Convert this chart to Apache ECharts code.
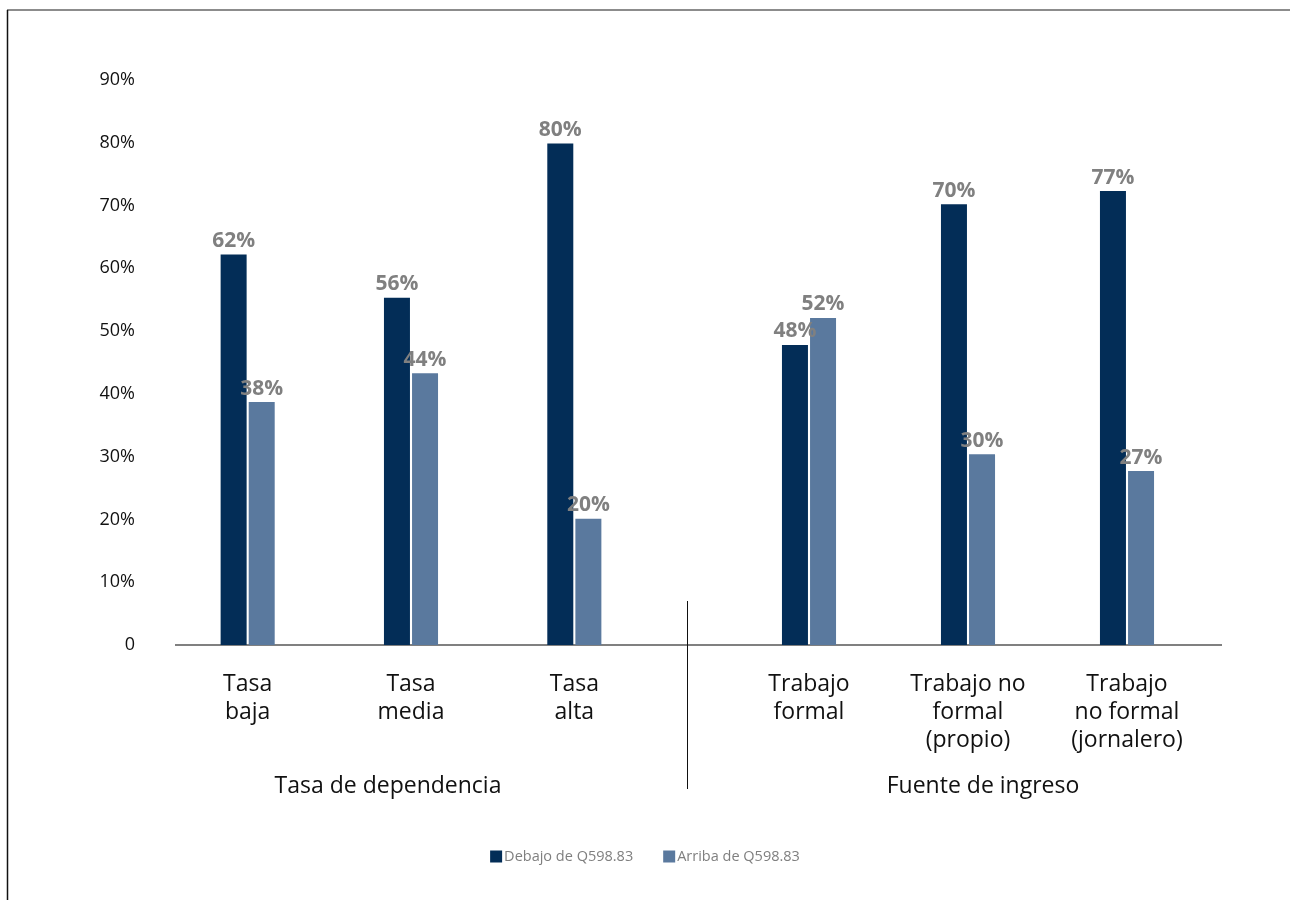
<!DOCTYPE html>
<html>
<head>
<meta charset="utf-8">
<script src="https://cdn.jsdelivr.net/npm/echarts@6/dist/echarts.min.js"></script>
<style>
html,body{margin:0;padding:0;background:#fff;}
#chart{width:1290px;height:900px;}
</style>
</head>
<body>
<div id="chart"></div>
<script>
// Group 1: Tasa de dependencia
const categoriesA = ["Tasa\nbaja", "Tasa\nmedia", "Tasa\nalta"];
// Group 2: Fuente de ingreso
const categoriesB = ["Trabajo\nformal", "Trabajo no\nformal\n(propio)", "Trabajo\nno formal\n(jornalero)"];
const groupNames = ["Tasa de dependencia", "Fuente de ingreso"];
const seriesNames = ["Debajo de Q598.83", "Arriba de Q598.83"];
// Bar heights as drawn (in %)
const debajoA = [62.2, 55.3, 79.9];
const arribaA = [38.7, 43.3, 20.1];
const debajoB = [47.8, 70.2, 72.3];
const arribaB = [52.1, 30.4, 27.7];
// Data labels as printed
const debajoLabelsA = ["62%", "56%", "80%"];
const arribaLabelsA = ["38%", "44%", "20%"];
const debajoLabelsB = ["48%", "70%", "77%"];
const arribaLabelsB = ["52%", "30%", "27%"];
const yTicks = ["0", "10%", "20%", "30%", "40%", "50%", "60%", "70%", "80%", "90%"];

const FONT = "Open Sans";
const DARK = '#032d57', LIGHT = '#5a799e';
const chart = echarts.init(document.getElementById('chart'));
const labelStyle = (arr) => ({
  show: true, position: 'top', distance: 3,
  color: '#808080', fontFamily: FONT, fontWeight: 'bold', fontSize: 21,
  formatter: p => arr[p.dataIndex]
});
const xAxisBase = (data, idx) => ({
  type: 'category', data: data, gridIndex: idx,
  axisLine: { show: false },
  axisTick: { show: false },
  axisLabel: { color: '#111', fontSize: 23, lineHeight: 28, margin: 25, fontFamily: FONT, interval: 0 }
});
const yAxisBase = (idx, showLabel) => ({
  type: 'value', min: 0, max: 90, interval: 10, gridIndex: idx,
  splitLine: { show: false }, axisLine: { show: false }, axisTick: { show: false },
  axisLabel: { show: showLabel, color: '#111', fontSize: 18, margin: 31, fontFamily: FONT,
    formatter: (v) => yTicks[Math.round(v / 10)] }
});
chart.setOption({
  animation: false,
  backgroundColor: '#fff',
  textStyle: { fontFamily: FONT },
  grid: [
    { left: 166, right: 634, top: 80, bottom: 255 },
    { left: 729.5, right: 83.5, top: 80, bottom: 255 }
  ],
  legend: {
    bottom: 31, left: 'center', itemWidth: 12, itemHeight: 12, itemGap: 30,
    icon: 'rect',
    textStyle: { color: '#7f7f7f', fontSize: 14.5, fontFamily: FONT, padding: [0, 0, 0, -3] },
    data: seriesNames
  },
  xAxis: [xAxisBase(categoriesA, 0), xAxisBase(categoriesB, 1)],
  yAxis: [yAxisBase(0, true), yAxisBase(1, false)],
  series: [
    { name: seriesNames[0], type: 'bar', xAxisIndex: 0, yAxisIndex: 0, data: debajoA, barWidth: 26, barGap: '8%',
      itemStyle: { color: DARK }, label: labelStyle(debajoLabelsA) },
    { name: seriesNames[1], type: 'bar', xAxisIndex: 0, yAxisIndex: 0, data: arribaA, barWidth: 26, barGap: '8%',
      itemStyle: { color: LIGHT }, label: labelStyle(arribaLabelsA) },
    { name: seriesNames[0], type: 'bar', xAxisIndex: 1, yAxisIndex: 1, data: debajoB, barWidth: 26, barGap: '8%',
      itemStyle: { color: DARK }, label: labelStyle(debajoLabelsB) },
    { name: seriesNames[1], type: 'bar', xAxisIndex: 1, yAxisIndex: 1, data: arribaB, barWidth: 26, barGap: '8%',
      itemStyle: { color: LIGHT }, label: labelStyle(arribaLabelsB) }
  ],
  graphic: [
    { type: 'line', shape: { x1: 7, y1: 10, x2: 1290, y2: 10 }, style: { stroke: '#666', lineWidth: 1.5 } },
    { type: 'line', shape: { x1: 7.5, y1: 10, x2: 7.5, y2: 900 }, style: { stroke: '#111', lineWidth: 1.5 } },
    { type: 'line', shape: { x1: 175, y1: 645, x2: 1222, y2: 645 }, style: { stroke: '#808080', lineWidth: 2 }, z: 0 },
    { type: 'line', shape: { x1: 687.5, y1: 601, x2: 687.5, y2: 789 }, style: { stroke: '#111', lineWidth: 1 } },
    { type: 'text', x: 388, y: 786, style: { text: groupNames[0], fontSize: 23, fill: '#111', fontFamily: FONT, textAlign: 'center', textVerticalAlign: 'middle' } },
    { type: 'text', x: 983, y: 786, style: { text: groupNames[1], fontSize: 23, fill: '#111', fontFamily: FONT, textAlign: 'center', textVerticalAlign: 'middle' } }
  ]
});
</script>
</body>
</html>
